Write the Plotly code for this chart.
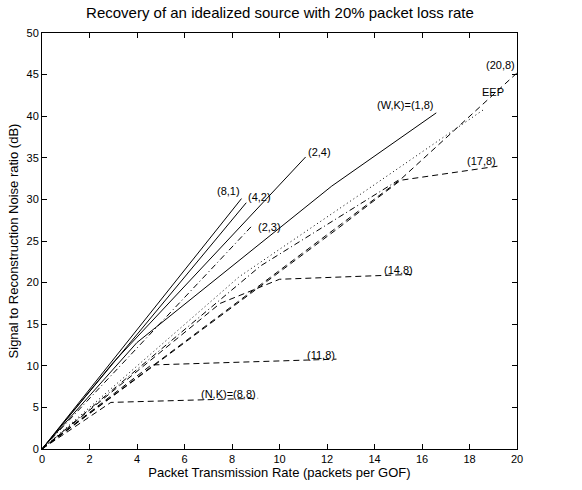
import plotly.graph_objects as go

# ---- data ----
wk81_x = [0, 8.4];             wk81_y = [0, 30.1]
wk42_x = [0, 8.6];             wk42_y = [0, 29.6]
wk24_x = [0, 3.0, 11.1];       wk24_y = [0, 10.4, 35.1]
wk18_x = [0, 4.0, 12.2, 16.6]; wk18_y = [0, 12.8, 31.6, 40.4]
wk23_x = [0, 8.8];             wk23_y = [0, 26.7]
dd_x = [0, 9.2, 15.0];         dd_y = [0, 22.0, 32.3]
eep_x = [0, 8.3, 13.4, 18.6];  eep_y = [0, 20.7, 30.6, 40.8]
nk8_x = [0, 2.9, 9.1];         nk8_y = [0, 5.6, 6.1]
nk11_x = [0, 4.6, 12.4];       nk11_y = [0, 10.1, 10.8]
nk14_x = [0, 7.5, 10.0, 15.7]; nk14_y = [0, 17.5, 20.4, 21.0]
nk17_x = [0, 12.5, 15.1, 19.2]; nk17_y = [0, 26.6, 32.3, 34.0]
nk20_x = [0, 15.1, 20];        nk20_y = [0, 32.4, 45.2]

labels = ["(8,1)", "(4,2)", "(2,4)", "(W,K)=(1,8)", "(2,3)", None, "EEP",
          "(N,K)=(8,8)", "(11,8)", "(14,8)", "(17,8)", "(20,8)"]

series = [
    (wk81_x, wk81_y, "solid"),
    (wk42_x, wk42_y, "solid"),
    (wk24_x, wk24_y, "solid"),
    (wk18_x, wk18_y, "solid"),
    (wk23_x, wk23_y, "dashdot"),
    (dd_x, dd_y, "dashdot"),
    (eep_x, eep_y, "dot"),
    (nk8_x, nk8_y, "dash"),
    (nk11_x, nk11_y, "dash"),
    (nk14_x, nk14_y, "dash"),
    (nk17_x, nk17_y, "dash"),
    (nk20_x, nk20_y, "dash"),
]

dash_map = {"solid": "solid", "dashdot": "6px,3px,1px,3px", "dot": "1px,3px", "dash": "6px,4px"}

fig = go.Figure()
for xs, ys, style in series:
    fig.add_trace(go.Scatter(x=xs, y=ys, mode="lines",
                             line=dict(color="black", width=1, dash=dash_map[style]),
                             showlegend=False, hoverinfo="skip"))

# label placement relative to each curve's end point (anchor, pixel shift)
label_pos = {
    "(8,1)": ("right", "bottom", 0, 0),
    "(4,2)": ("left", "bottom", 0, -2),
    "(2,4)": ("left", "bottom", 0, -3),
    "(W,K)=(1,8)": ("right", "bottom", 0, 0),
    "(2,3)": ("left", "middle", 5, 0),
    "EEP": ("left", "bottom", -4, 10),
    "(N,K)=(8,8)": ("right", "bottom", 0, -4),
    "(11,8)": ("right", "bottom", 0, -4),
    "(14,8)": ("right", "bottom", 0, -4),
    "(17,8)": ("right", "bottom", 0, -3),
    "(20,8)": ("right", "bottom", 0, 0),
}
for (xs, ys, style), name in zip(series, labels):
    if name is None:
        continue
    xa, ya, dx, dy = label_pos[name]
    fig.add_annotation(x=xs[-1], y=ys[-1], text=name, showarrow=False,
                       xanchor=xa, yanchor=ya, xshift=dx, yshift=dy,
                       font=dict(family="Liberation Sans, Arial", size=11, color="black"))

axis_common = dict(showline=True, linecolor="black", linewidth=1, mirror="ticks",
                   ticks="inside", ticklen=5, tickcolor="black", showgrid=False,
                   zeroline=False, tickfont=dict(family="Liberation Sans, Arial", size=11, color="black"),
                   title_font=dict(family="Liberation Sans, Arial", size=13, color="black"))

fig.update_layout(
    width=582, height=490,
    margin=dict(l=42, r=65, t=33, b=41),
    plot_bgcolor="white", paper_bgcolor="white",
    title=dict(text="Recovery of an idealized source with 20% packet loss rate",
               x=0.481, xanchor="center", y=0.975, yanchor="middle",
               font=dict(family="Liberation Sans, Arial", size=15, color="black")),
    xaxis=dict(range=[0, 20], dtick=2, title=dict(text="Packet Transmission Rate (packets per GOF)", standoff=1), **axis_common),
    yaxis=dict(range=[0, 50], dtick=5, title=dict(text="Signal to Reconstruction Noise ratio (dB)", standoff=4), **axis_common),
)

fig.write_html("out.html")
